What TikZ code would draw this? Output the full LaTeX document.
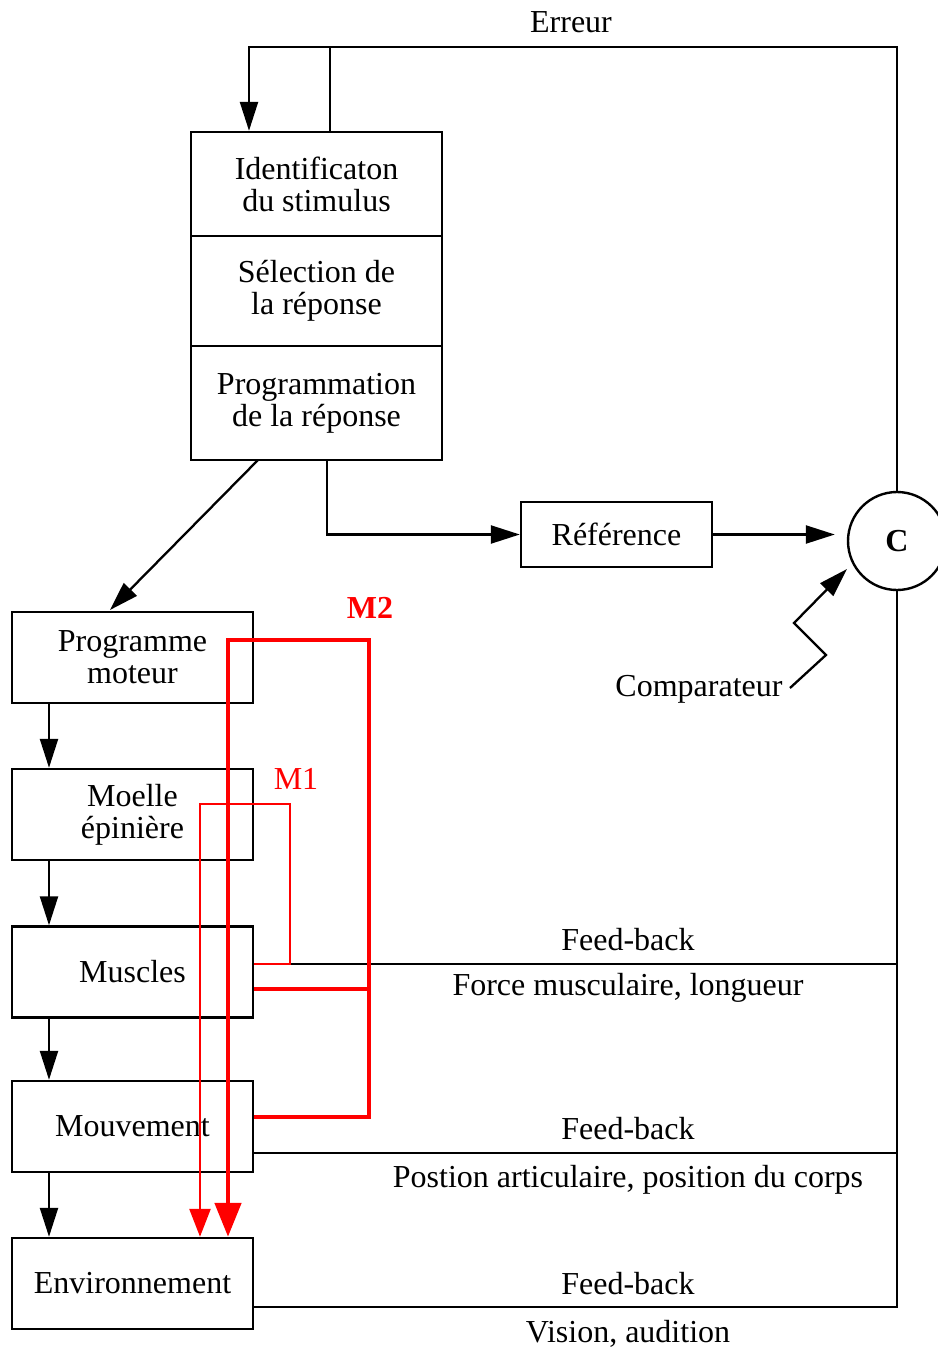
\documentclass[tikz,border=0pt]{standalone}
\usepackage{fontspec}
\setmainfont{Liberation Serif}
\usetikzlibrary{arrows.meta}
\begin{document}
\begin{tikzpicture}[x=1pt,y=-1pt,
  font=\fontsize{32}{32}\selectfont,
  box/.style={draw, line width=2.4pt, minimum width=241pt, minimum height=91pt, align=center, inner sep=0pt},
  sbox/.style={box, minimum width=251pt},
  line/.style={line width=2.3pt},
  arr/.style={line width=2.3pt, -{Triangle[length=29pt,width=18pt]}},
  m1/.style={draw=red, line width=2.6pt, -{Triangle[length=28pt,width=21pt]}},
  m2/.style={draw=red, line width=4.8pt, -{Triangle[length=34pt,width=26pt]}},
  lbl/.style={inner sep=0pt}]
\useasboundingbox (0,0) rectangle (937,1349);

% nodes
\node[sbox, minimum height=104pt] (id) at (316.5,184) {Identificaton\\du stimulus};
\node[sbox, minimum height=110pt] (sel) at (316.5,291) {Sélection de\\la réponse};
\node[sbox, minimum height=114pt] (pr) at (316.5,403) {Programmation\\de la réponse};
\node[box] (pm) at (132.5,657.5) {Programme\\moteur};
\node[box] (me) at (132.5,814.5) {Moelle\\épinière};
\node[box] (mu) at (132.5,972) {Muscles};
\node[box] (mv) at (132.5,1126.5) {Mouvement};
\node[box] (env) at (132.5,1283.5) {Environnement};
\node[box, minimum width=191pt, minimum height=65pt] (ref) at (616.5,534.5) {Référence};
\node[draw, circle, line width=2.4pt, minimum size=98pt, inner sep=0pt, font=\fontsize{32}{32}\selectfont\bfseries] (C) at (897,541) {C};

% labels
\node[lbl] (err) at (571,22) {Erreur};
\node[lbl] (comp) at (699,689) {Comparateur};
\node[lbl] (fb1) at (628,940) {Feed-back};
\node[lbl] (fm) at (628,988) {Force musculaire, longueur};
\node[lbl] (fb2) at (628,1129) {Feed-back};
\node[lbl] (pa) at (628,1180) {Postion articulaire, position du corps};
\node[lbl] (fb3) at (628,1284) {Feed-back};
\node[lbl] (va) at (628,1334) {Vision, audition};
\node[lbl, text=red, font=\fontsize{32}{32}\selectfont\bfseries] (lm2) at (370,608) {M2};
\node[lbl, text=red] (lm1) at (296,779) {M1};

% coordinates
\coordinate (e1) at (249,47);
\coordinate (e2) at (330,47);
\coordinate (d1) at (258,460);
\coordinate (d2) at (110,610);
\coordinate (r0) at (327,460);
\coordinate (lx) at (49,0);
\coordinate (c1) at (790,688);
\coordinate (c2) at (826,655);
\coordinate (c3) at (794,623);
\coordinate (c4) at (847,569);
\coordinate (m1a) at (290,804);
\coordinate (m1b) at (200,804);
\coordinate (m2a) at (369,640);
\coordinate (m2b) at (228,640);

% error loop
\draw[arr] (C.north) |- (e1) -- (e1 |- id.north);
\draw[line] (e2) -- (e2 |- id.north);

% outputs of programming
\draw[arr] (d1) -- (d2);
\draw[arr] (r0) |- (ref.west);
\draw[arr, shorten >=12pt] (ref.east) -- (ref.east -| C.west);
\draw[arr] (c1) -- (c2) -- (c3) -- (c4);

% chain
\draw[arr] (pm.south -| lx) -- (me.north -| lx);
\draw[arr] (me.south -| lx) -- (mu.north -| lx);
\draw[arr] (mu.south -| lx) -- (mv.north -| lx);
\draw[arr] (mv.south -| lx) -- (env.north -| lx);

% feedback lines
\draw[line] (C.south) |- ([yshift=-23.5pt]env.east);
\draw[line] ([yshift=8pt]mu.east) -- ([yshift=8pt]mu.east -| C.south);
\draw[line] ([yshift=-26.5pt]mv.east) -- ([yshift=-26.5pt]mv.east -| C.south);

% red loops
\draw[m1] ([yshift=8pt]mu.east) -| (m1a) -- (m1b) -- (m1b |- env.north);
\draw[m2] ([yshift=9.5pt]mv.east) -| (m2a) -- (m2b) -- (m2b |- env.north);
\draw[draw=red, line width=4.8pt] ([yshift=-17pt]mu.east) -- ([yshift=-17pt]mu.east -| m2a);
\end{tikzpicture}
\end{document}
